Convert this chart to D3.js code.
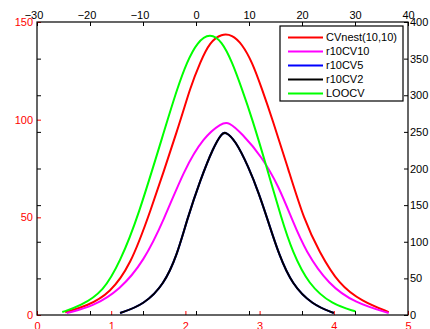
<!DOCTYPE html>
<html>
<head>
<meta charset="utf-8">
<script src="https://cdn.jsdelivr.net/npm/d3@7"></script>
<style>
  body { margin: 0; background: #fff; }
  svg { display: block; font-family: "Liberation Sans", Arial, sans-serif; }
</style>
</head>
<body>
<svg id="chart" width="430" height="329"></svg>
<script>
// series (bottom x axis, left y axis units)
var seriesNames = ["CVnest(10,10)", "r10CV10", "r10CV5", "r10CV2", "LOOCV"];
var seriesColors = ["#ff0000", "#ff00ff", "#0000ff", "#000000", "#00ff00"];

var cvnestX = [0.38, 0.67, 0.99, 1.26, 1.50, 1.93, 2.06, 2.20, 2.33, 2.49, 2.63, 2.76, 2.90, 3.03, 3.17, 3.39, 3.60, 3.80, 4.07, 4.38, 4.74];
var cvnestY = [1.4, 4.5, 11.3, 25.8, 49.7, 98.8, 115.9, 129.5, 139.8, 144.0, 143.4, 138.9, 129.5, 115.9, 100.5, 74.2, 48.6, 32.6, 15.5, 7.0, 1.5];

var r10cv10X = [0.40, 0.76, 1.12, 1.44, 1.71, 1.98, 2.25, 2.49, 2.58, 2.76, 3.03, 3.26, 3.44, 3.62, 3.93, 4.29, 4.74];
var r10cv10Y = [1.0, 4.5, 13.0, 27.5, 48.6, 74.2, 91.3, 98.2, 99.0, 93.0, 81.1, 65.7, 48.6, 32.6, 15.5, 6.1, 1.0];

var r10cv5X = [1.12, 1.44, 1.71, 1.89, 2.02, 2.20, 2.38, 2.49, 2.54, 2.67, 2.85, 2.99, 3.11, 3.26, 3.44, 3.71, 4.00];
var r10cv5Y = [1.0, 5.3, 15.5, 30.9, 48.6, 69.1, 86.2, 93.0, 93.9, 89.6, 75.9, 62.3, 48.6, 30.9, 15.5, 5.3, 1.0];

var r10cv2X = [1.12, 1.44, 1.71, 1.89, 2.02, 2.20, 2.38, 2.49, 2.54, 2.67, 2.85, 2.99, 3.11, 3.26, 3.44, 3.71, 4.00];
var r10cv2Y = [1.0, 5.3, 15.5, 30.9, 48.6, 69.1, 86.2, 93.0, 93.9, 89.6, 75.9, 62.3, 48.6, 30.9, 15.5, 5.3, 1.0];

var loocvX = [0.34, 0.58, 0.90, 1.12, 1.35, 1.75, 1.89, 2.02, 2.16, 2.33, 2.49, 2.63, 2.76, 2.90, 3.08, 3.30, 3.44, 3.66, 3.98, 4.29];
var loocvY = [1.5, 4.5, 12.1, 27.5, 48.6, 98.8, 115.9, 129.5, 139.8, 144.4, 140.3, 129.5, 115.9, 100.5, 77.7, 48.6, 32.6, 15.5, 5.3, 1.9];

var bottomTicks = [0, 1, 2, 3, 4, 5];
var leftTicks = [0, 50, 100, 150];
var topTicks = [-30, -20, -10, 0, 10, 20, 30, 40];
var rightTicks = [0, 50, 100, 150, 200, 250, 300, 350, 400];

var allX = [cvnestX, r10cv10X, r10cv5X, r10cv2X, loocvX];
var allY = [cvnestY, r10cv10Y, r10cv5Y, r10cv2Y, loocvY];

var svg = d3.select("#chart");
var plotL = 37, plotR = 408, plotT = 22, plotB = 315;

var x = d3.scaleLinear().domain([0, 5]).range([plotL, plotR]);
var y = d3.scaleLinear().domain([0, 150]).range([plotB, plotT]);
var x2 = d3.scaleLinear().domain([-30, 40]).range([plotL, plotR]);
var y2 = d3.scaleLinear().domain([0, 400]).range([plotB, plotT]);

function styleAxis(g, color) {
  g.select(".domain").remove();
  g.selectAll("line").attr("stroke", color);
  g.selectAll("text").attr("fill", color).style("font-size", "11px");
}

var plainFmt = function(d) { return d < 0 ? "\u2212" + Math.abs(d) : String(d); };

// mirrored ticks (no labels)
svg.append("g")
    .attr("transform", "translate(0," + plotB + ")")
    .call(d3.axisBottom(x2).tickValues(topTicks).tickSize(-4).tickSizeOuter(0).tickFormat(""))
    .call(styleAxis, "#000");
svg.append("g")
    .attr("transform", "translate(" + plotL + ",0)")
    .call(d3.axisLeft(y2).tickValues(rightTicks).tickSize(-4).tickSizeOuter(0).tickFormat(""))
    .call(styleAxis, "#000");

// top and right axes (black)
var topAxis = svg.append("g")
    .attr("transform", "translate(0," + plotT + ")")
    .call(d3.axisTop(x2).tickValues(topTicks).tickSize(-4).tickSizeOuter(0).tickPadding(3).tickFormat(plainFmt))
    .call(styleAxis, "#000");
topAxis.selectAll("text").attr("dx", function(d) { return d < 0 ? -3.5 : 0; });

svg.append("g")
    .attr("transform", "translate(" + plotR + ",0)")
    .call(d3.axisRight(y2).tickValues(rightTicks).tickSize(-4).tickSizeOuter(0).tickPadding(2).tickFormat(plainFmt))
    .call(styleAxis, "#000");

// bottom and left axes (red)
svg.append("g")
    .attr("transform", "translate(0," + plotB + ")")
    .call(d3.axisBottom(x).tickValues(bottomTicks).tickSize(-4).tickSizeOuter(0).tickPadding(7).tickFormat(plainFmt))
    .call(styleAxis, "#ff0000");
svg.append("g")
    .attr("transform", "translate(" + plotL + ",0)")
    .call(d3.axisLeft(y).tickValues(leftTicks).tickSize(-4).tickSizeOuter(0).tickPadding(4).tickFormat(plainFmt))
    .call(styleAxis, "#ff0000");

// box
svg.append("rect")
    .attr("x", plotL).attr("y", plotT)
    .attr("width", plotR - plotL).attr("height", plotB - plotT)
    .attr("fill", "none").attr("stroke", "#000").attr("stroke-width", 1.2);

// curves
var line = d3.line()
    .x(function(d) { return x(d[0]); })
    .y(function(d) { return y(d[1]); })
    .curve(d3.curveBasis);

seriesNames.forEach(function(name, i) {
  var pts = d3.zip(allX[i], allY[i]);
  svg.append("path")
      .datum(pts)
      .attr("d", line)
      .attr("fill", "none")
      .attr("stroke", seriesColors[i])
      .attr("stroke-width", 2);
});

// legend
var legend = svg.append("g").attr("transform", "translate(280,26)");
legend.append("rect")
    .attr("width", 123).attr("height", 75)
    .attr("fill", "#fff").attr("stroke", "#000").attr("stroke-width", 1.2);

var item = legend.selectAll("g.item")
    .data(seriesNames)
    .enter().append("g")
      .attr("class", "item")
      .attr("transform", function(d, i) { return "translate(0," + (11.5 + i * 14) + ")"; });

item.append("line")
    .attr("x1", 8).attr("x2", 43)
    .attr("stroke", function(d, i) { return seriesColors[i]; })
    .attr("stroke-width", 2);

item.append("text")
    .attr("x", 46).attr("dy", "0.35em")
    .style("font-size", "11px")
    .text(function(d) { return d; });
</script>
</body>
</html>
